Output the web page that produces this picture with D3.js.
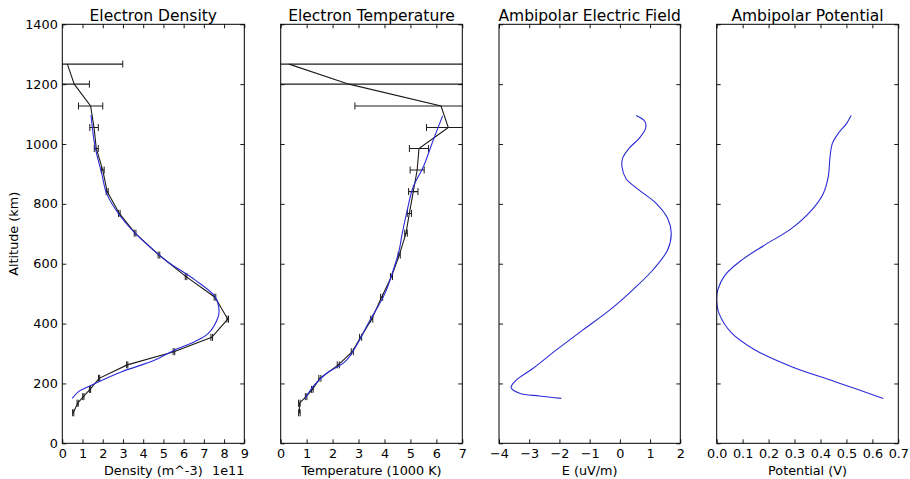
<!DOCTYPE html>
<html>
  <head>
    <meta charset="UTF-8">
    <title>Ionosphere profiles</title>
    <script src="https://d3js.org/d3.v7.min.js"></script>
    <style>
      body { margin: 0; background: #fff; }
      text { font-family: "DejaVu Sans", sans-serif; fill: #000; }
    </style>
  </head>
  <body>
    <div id="chart"></div>
    <script>
      // Measured profile (altitude in km)
      const altitudes = [1267, 1200, 1127, 1055, 985, 913, 841, 768, 702, 629, 557, 488, 415, 354, 306, 262, 217, 180, 156, 134, 102];

      // Electron density, units of 1e11 m^-3
      const density = [0.25, 0.59, 1.40, 1.57, 1.68, 2.00, 2.22, 2.82, 3.60, 4.78, 6.12, 7.55, 8.18, 7.39, 5.52, 3.21, 1.82, 1.37, 1.04, 0.76, 0.54];
      const densityErr = [2.74, 0.75, 0.60, 0.21, 0.10, 0.07, 0.05, 0.04, 0.04, 0.04, 0.04, 0.04, 0.04, 0.04, 0.04, 0.03, 0.03, 0.03, 0.03, 0.03, 0.03];

      // Electron temperature, units of 1000 K
      const temperature = [0.32, 2.63, 6.18, 6.46, 5.33, 5.26, 5.11, 4.96, 4.83, 4.57, 4.27, 3.89, 3.51, 3.08, 2.76, 2.22, 1.51, 1.22, 0.98, 0.72, 0.72];
      const temperatureErr = [20, 20, 3.32, 0.84, 0.37, 0.27, 0.18, 0.08, 0.05, 0.04, 0.04, 0.04, 0.04, 0.04, 0.04, 0.04, 0.04, 0.03, 0.03, 0.03, 0.03];

      // Fitted density profile
      const fitDensityAlt = [1097, 991, 902, 835, 768, 702, 646, 605, 546, 490, 445, 423, 367, 340, 312, 278, 239, 200, 189, 172, 150];
      const fitDensity = [1.42, 1.62, 1.95, 2.19, 2.77, 3.60, 4.50, 5.24, 6.56, 7.55, 7.75, 7.71, 7.22, 6.56, 5.57, 4.58, 2.94, 1.62, 1.28, 0.79, 0.49];

      // Fitted temperature profile
      const fitTempAlt = [1094, 1013, 924, 857, 768, 690, 646, 579, 501, 411, 278, 234, 195, 150];
      const fitTemp = [6.24, 5.88, 5.50, 5.11, 4.85, 4.66, 4.57, 4.34, 4.02, 3.44, 2.54, 1.77, 1.30, 0.94];

      // Ambipolar electric field (uV/m)
      const fieldAlt = [1095, 1075, 1052, 1019, 986, 952, 924, 885, 846, 802, 752, 702, 646, 579, 512, 445, 379, 312, 250, 211, 187, 167, 158, 150];
      const field = [0.54, 0.83, 0.85, 0.64, 0.31, 0.09, 0.07, 0.20, 0.64, 1.20, 1.58, 1.70, 1.58, 1.09, 0.42, -0.34, -1.22, -2.10, -2.88, -3.43, -3.60, -3.32, -2.66, -1.94];

      // Ambipolar potential (V)
      const potentialAlt = [1095, 1069, 1036, 1002, 958, 891, 835, 779, 718, 663, 612, 562, 512, 479, 434, 368, 312, 256, 206, 150];
      const potential = [0.518, 0.501, 0.469, 0.446, 0.437, 0.430, 0.411, 0.366, 0.289, 0.186, 0.096, 0.032, 0.004, 0.0, 0.009, 0.058, 0.148, 0.289, 0.456, 0.642];

      // Tick labels
      const altTicks = [0, 200, 400, 600, 800, 1000, 1200, 1400];
      const densityTicks = [0, 1, 2, 3, 4, 5, 6, 7, 8, 9];
      const temperatureTicks = [0, 1, 2, 3, 4, 5, 6, 7];
      const fieldTicks = [-4, -3, -2, -1, 0, 1, 2];
      const potentialTicks = [0, 0.1, 0.2, 0.3, 0.4, 0.5, 0.6, 0.7];

      const width = 910, height = 479;
      const plotTop = 24.3, plotBottom = 443.3;
      const black = "#1c1c1c", blue = "#2a2ad6";

      const svg = d3.select("#chart").append("svg")
        .attr("width", width).attr("height", height);

      const y = d3.scaleLinear().domain([0, 1400]).range([plotBottom, plotTop]);

      const panels = [
        { left: 62.3, right: 244.3, domain: [0, 9], ticks: densityTicks, fmt: d3.format("d"),
          title: "Electron Density", label: "Density (m^-3)", showY: true },
        { left: 280.7, right: 462.3, domain: [0, 7], ticks: temperatureTicks, fmt: d3.format("d"),
          title: "Electron Temperature", label: "Temperature (1000 K)" },
        { left: 499, right: 680.3, domain: [-4, 2], ticks: fieldTicks, fmt: d3.format("d"),
          title: "Ambipolar Electric Field", label: "E (uV/m)" },
        { left: 716.7, right: 898.3, domain: [0, 0.7], ticks: potentialTicks, fmt: d3.format(".1f"),
          title: "Ambipolar Potential", label: "Potential (V)" }
      ];

      panels.forEach((p, i) => {
        p.x = d3.scaleLinear().domain(p.domain).range([p.left, p.right]);
        p.g = svg.append("g");
        svg.append("clipPath").attr("id", "clip" + i)
          .append("rect")
          .attr("x", p.left).attr("y", plotTop)
          .attr("width", p.right - p.left).attr("height", plotBottom - plotTop);
        p.plot = p.g.append("g").attr("clip-path", `url(#clip${i})`);
      });

      function styleAxis(g) {
        g.select(".domain").remove();
        g.selectAll("line").attr("stroke", "#000").attr("stroke-width", 0.9);
        g.selectAll("text").attr("font-size", 12.8).attr("font-family", "DejaVu Sans");
      }

      panels.forEach(p => {
        // axes, ticks pointing inwards on all four sides
        p.g.append("g").attr("transform", `translate(0,${plotBottom})`)
          .call(d3.axisBottom(p.x).tickValues(p.ticks).tickFormat(p.fmt)
            .tickSizeInner(-4).tickSizeOuter(0).tickPadding(6))
          .call(styleAxis);
        p.g.append("g").attr("transform", `translate(0,${plotTop})`)
          .call(d3.axisTop(p.x).tickValues(p.ticks).tickFormat("")
            .tickSizeInner(-4).tickSizeOuter(0))
          .call(styleAxis);
        p.g.append("g").attr("transform", `translate(${p.left},0)`)
          .call(d3.axisLeft(y).tickValues(altTicks).tickFormat(p.showY ? d3.format("d") : "")
            .tickSizeInner(-4).tickSizeOuter(0).tickPadding(4.5))
          .call(styleAxis);
        p.g.append("g").attr("transform", `translate(${p.right},0)`)
          .call(d3.axisRight(y).tickValues(altTicks).tickFormat("")
            .tickSizeInner(-4).tickSizeOuter(0))
          .call(styleAxis);

        p.g.append("rect")
          .attr("x", p.left).attr("y", plotTop)
          .attr("width", p.right - p.left).attr("height", plotBottom - plotTop)
          .attr("fill", "none").attr("stroke", "#000").attr("stroke-width", 1);

        p.g.append("text")
          .attr("x", (p.left + p.right) / 2).attr("y", 21)
          .attr("text-anchor", "middle").attr("font-size", 15.5)
          .text(p.title);

        p.g.append("text")
          .attr("x", (p.left + p.right) / 2).attr("y", 475)
          .attr("text-anchor", "middle").attr("font-size", 12.8)
          .text(p.label);
      });

      svg.append("text")
        .attr("transform", `translate(18,${(plotTop + plotBottom) / 2}) rotate(-90)`)
        .attr("text-anchor", "middle").attr("font-size", 12.8)
        .text("Altitude (km)");

      svg.append("text")
        .attr("x", panels[0].right).attr("y", 475)
        .attr("text-anchor", "end").attr("font-size", 12.8)
        .text("1e11");

      // error bar series
      function errorSeries(p, values, errs) {
        const pts = altitudes.map((a, i) => ({ a, v: values[i], e: errs[i] }));
        p.plot.append("path")
          .datum(pts)
          .attr("fill", "none").attr("stroke", black).attr("stroke-width", 1.1)
          .attr("d", d3.line().x(d => p.x(d.v)).y(d => y(d.a)));
        const bars = p.plot.selectAll(null).data(pts).enter().append("g");
        bars.append("line")
          .attr("x1", d => p.x(d.v - d.e)).attr("x2", d => p.x(d.v + d.e))
          .attr("y1", d => y(d.a)).attr("y2", d => y(d.a))
          .attr("stroke", black).attr("stroke-width", 1.1);
        [-1, 1].forEach(s => {
          bars.append("line")
            .attr("x1", d => p.x(d.v + s * d.e)).attr("x2", d => p.x(d.v + s * d.e))
            .attr("y1", d => y(d.a) - 3.5).attr("y2", d => y(d.a) + 3.5)
            .attr("stroke", black).attr("stroke-width", 1);
        });
      }

      function curve(p, alts, values) {
        p.plot.append("path")
          .datum(alts.map((a, i) => [values[i], a]))
          .attr("fill", "none").attr("stroke", blue).attr("stroke-width", 1.1)
          .attr("d", d3.line().curve(d3.curveCatmullRom)
            .x(d => p.x(d[0])).y(d => y(d[1])));
      }

      errorSeries(panels[0], density, densityErr);
      curve(panels[0], fitDensityAlt, fitDensity);
      errorSeries(panels[1], temperature, temperatureErr);
      curve(panels[1], fitTempAlt, fitTemp);
      curve(panels[2], fieldAlt, field);
      curve(panels[3], potentialAlt, potential);
    </script>
  </body>
</html>
